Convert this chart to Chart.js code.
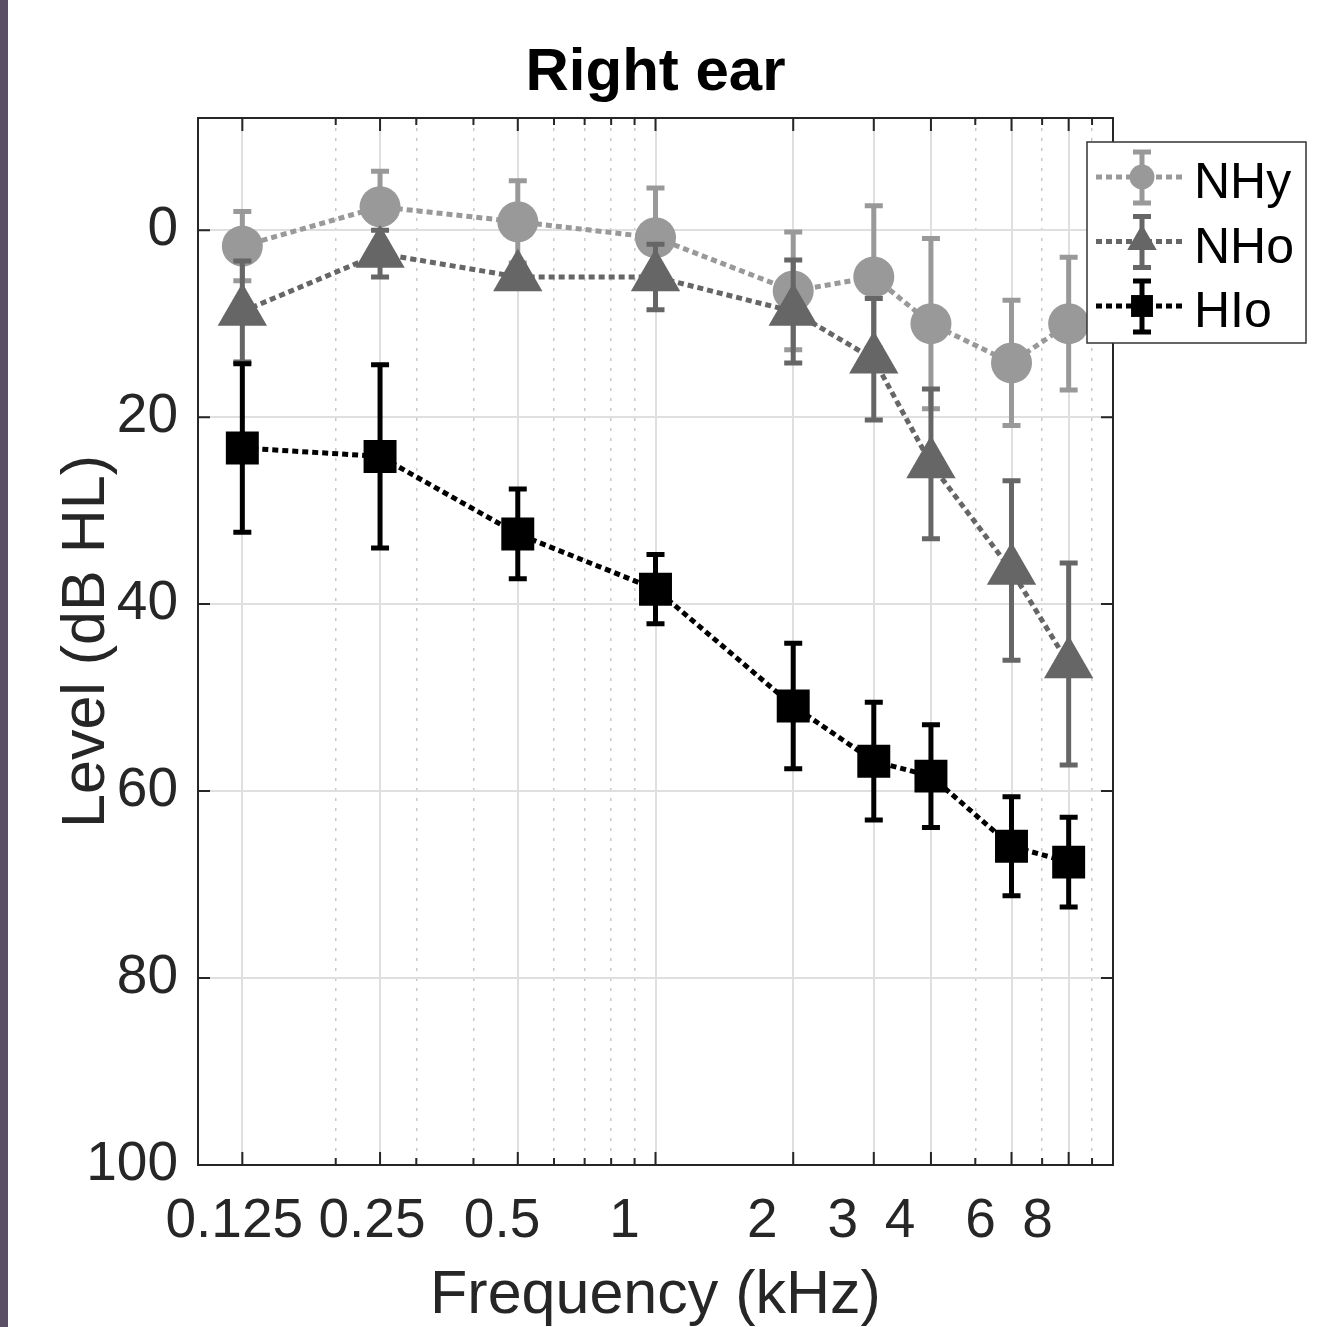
<!DOCTYPE html>
<html>
<head>
<meta charset="utf-8">
<title>Right ear</title>
<script src="https://cdn.jsdelivr.net/npm/chart.js@4.4.1/dist/chart.umd.min.js"></script>
<style>
  html, body { margin: 0; padding: 0; background: #fff; }
  #wrap { position: relative; width: 1322px; height: 1327px; overflow: hidden; }
  #strip { position: absolute; left: 0; top: 0; width: 8px; height: 1327px; background: #5b4f66; }
  canvas { display: block; }
</style>
</head>
<body>
<div id="wrap">
  <canvas id="audiogram" width="1322" height="1327"></canvas>
  <div id="strip"></div>
</div>
<script>
// hearing thresholds (mean +/- SD) per group, right ear
const freqs = [0.125, 0.25, 0.5, 1, 2, 3, 4, 6, 8];
// leading spaces nudge the first labels the way the original figure has them
const xTickLabels = ['   0.125', '   0.25', '  0.5', '1', '2', '3', '4', '6', '8'];
const minorFreqs = [0.2, 0.3, 0.4, 0.6, 0.7, 0.8, 0.9, 5, 7, 9];
const yTicks = [0, 20, 40, 60, 80, 100];

const nhyMean = [1.7, -2.5, -0.9, 0.8, 6.5, 5.0, 10.0, 14.2, 10.0];
const nhySd   = [3.7, 3.8, 4.4, 5.3, 6.3, 7.6, 9.1, 6.7, 7.1];
const nhoMean = [8.7, 2.5, 5.0, 5.0, 8.7, 13.8, 25.0, 36.4, 46.4];
const nhoSd   = [5.4, 2.5, 0.5, 3.5, 5.5, 6.5, 8.0, 9.6, 10.8];
const hioMean = [23.3, 24.2, 32.5, 38.4, 50.9, 56.8, 58.4, 65.9, 67.6];
const hioSd   = [9.0, 9.8, 4.8, 3.7, 6.7, 6.3, 5.5, 5.3, 4.8];

const AXIS = '#262626';
Chart.defaults.font.family = "'Liberation Sans', Arial, Helvetica, sans-serif";

function makeSet(label, means, sds, color, style, radius, legendRadius, order) {
  return {
    label: label,
    data: freqs.map((f, i) => ({ x: f, y: means[i] })),
    sd: sds,
    borderColor: color,
    backgroundColor: color,
    borderWidth: 5,
    borderDash: [6, 4],
    pointStyle: style,
    pointRadius: radius,
    pointHoverRadius: radius,
    pointBackgroundColor: color,
    pointBorderWidth: 0,
    legendRadius: legendRadius,
    tension: 0,
    order: order
  };
}

// simple marker drawing, same geometry as Chart.js point styles
function drawMarker(ctx, style, r, cx, cy) {
  ctx.beginPath();
  if (style === 'circle') {
    ctx.arc(cx, cy, r, 0, Math.PI * 2);
  } else if (style === 'triangle') {
    ctx.moveTo(cx, cy - r);
    ctx.lineTo(cx + r * 0.866, cy + r / 2);
    ctx.lineTo(cx - r * 0.866, cy + r / 2);
    ctx.closePath();
  } else {
    const s = r * Math.SQRT1_2;
    ctx.rect(cx - s, cy - s, 2 * s, 2 * s);
  }
  ctx.fill();
}

function drawErrorBar(ctx, px, top, bot, cap) {
  ctx.beginPath();
  ctx.moveTo(px, top); ctx.lineTo(px, bot);
  ctx.moveTo(px - cap, top); ctx.lineTo(px + cap, top);
  ctx.moveTo(px - cap, bot); ctx.lineTo(px + cap, bot);
  ctx.stroke();
}

// error bars go under each series' own line and markers
const errorBars = {
  id: 'errorBars',
  beforeDatasetDraw(chart, args) {
    const ds = chart.data.datasets[args.index];
    const { ctx, chartArea: a, scales: { x, y } } = chart;
    ctx.save();
    ctx.beginPath();
    ctx.rect(a.left, a.top, a.right - a.left, a.bottom - a.top);
    ctx.clip();
    ctx.strokeStyle = ds.borderColor;
    ctx.lineWidth = 5;
    ctx.lineCap = 'butt';
    ds.data.forEach((p, i) => {
      const px = x.getPixelForValue(p.x);
      drawErrorBar(ctx, px, y.getPixelForValue(p.y - ds.sd[i]), y.getPixelForValue(p.y + ds.sd[i]), 9);
    });
    ctx.restore();
  }
};

// box outline and inward tick marks, matlab style
const boxAndTicks = {
  id: 'boxAndTicks',
  beforeDatasetsDraw(chart) {
    const { ctx, chartArea: a, scales: { x, y } } = chart;
    ctx.save();
    ctx.strokeStyle = AXIS;
    ctx.lineWidth = 2;
    ctx.beginPath();
    ctx.moveTo(a.left, a.top);
    ctx.lineTo(a.right, a.top);
    ctx.lineTo(a.right, a.bottom);
    const mark = (vals, len) => vals.forEach(v => {
      const px = x.getPixelForValue(v);
      ctx.moveTo(px, a.bottom); ctx.lineTo(px, a.bottom - len);
      ctx.moveTo(px, a.top); ctx.lineTo(px, a.top + len);
    });
    mark(freqs, 13);
    mark(minorFreqs, 7);
    yTicks.forEach(v => {
      const py = y.getPixelForValue(v);
      ctx.moveTo(a.left, py); ctx.lineTo(a.left + 12, py);
      ctx.moveTo(a.right, py); ctx.lineTo(a.right - 12, py);
    });
    ctx.stroke();
    ctx.restore();
  }
};

// legend box straddling the right edge of the axes
const boxLegend = {
  id: 'boxLegend',
  afterDraw(chart) {
    const { ctx, chartArea: a } = chart;
    const left = a.right - 26, top = a.top + 24;
    ctx.save();
    ctx.fillStyle = '#fff';
    ctx.fillRect(left, top, 219, 201);
    ctx.strokeStyle = '#333';
    ctx.lineWidth = 1.5;
    ctx.strokeRect(left, top, 219, 201);
    chart.data.datasets.forEach((ds, i) => {
      const rowY = top + 35 + i * 64.5;
      const mx = left + 55;
      ctx.strokeStyle = ds.borderColor;
      ctx.fillStyle = ds.borderColor;
      ctx.lineWidth = 5;
      ctx.setLineDash(ds.borderDash);
      ctx.beginPath();
      ctx.moveTo(left + 9, rowY);
      ctx.lineTo(left + 96, rowY);
      ctx.stroke();
      ctx.setLineDash([]);
      drawErrorBar(ctx, mx, rowY - 25, rowY + 26, 9);
      drawMarker(ctx, ds.pointStyle, ds.legendRadius, mx, rowY);
      ctx.fillStyle = '#000';
      ctx.font = "50px 'Liberation Sans', Arial, sans-serif";
      ctx.textAlign = 'left';
      ctx.textBaseline = 'alphabetic';
      ctx.fillText(ds.label, left + 107, rowY + 21);
    });
    ctx.restore();
  }
};

new Chart(document.getElementById('audiogram'), {
  type: 'line',
  data: {
    datasets: [
      makeSet('NHy', nhyMean, nhySd, '#999999', 'circle', 20.5, 12.5, 3),
      makeSet('NHo', nhoMean, nhoSd, '#666666', 'triangle', 28.5, 17, 2),
      makeSet('HIo', hioMean, hioSd, '#000000', 'rect', 23.3, 15.5, 1)
    ]
  },
  options: {
    responsive: false,
    animation: false,
    devicePixelRatio: 1,
    layout: { padding: { left: 0, right: 209, top: 0, bottom: 0 } },
    plugins: {
      legend: { display: false },
      tooltip: { enabled: false },
      title: {
        display: true,
        text: 'Right ear',
        fullSize: false,
        color: '#000',
        font: { size: 60, weight: 'bold', lineHeight: 1 },
        padding: { top: 43, bottom: 15 }
      }
    },
    scales: {
      x: {
        type: 'logarithmic',
        position: 'bottom',
        min: 0.1,
        max: 10,
        afterBuildTicks: s => { s.ticks = freqs.map(v => ({ value: v })); },
        afterFit: s => { s.height = 162; },
        ticks: {
          autoSkip: false,
          maxRotation: 0,
          minRotation: 0,
          labelOffset: -31,
          padding: 24,
          color: AXIS,
          font: { size: 55 },
          callback: (v, i) => xTickLabels[i]
        },
        grid: { color: '#dfdfdf', lineWidth: 2, drawTicks: false },
        border: { color: AXIS, width: 2 },
        title: {
          display: true,
          text: 'Frequency (kHz)',
          color: AXIS,
          font: { size: 61, lineHeight: 1 },
          padding: { top: 0, bottom: 0 }
        }
      },
      xMinor: {
        type: 'logarithmic',
        position: 'bottom',
        min: 0.1,
        max: 10,
        afterBuildTicks: s => { s.ticks = minorFreqs.map(v => ({ value: v })); },
        afterFit: s => { s.height = 0; },
        ticks: { display: false },
        grid: { color: '#c9c9c9', lineWidth: 1.5, drawTicks: false },
        border: { display: false, dash: [3, 7] }
      },
      y: {
        type: 'linear',
        position: 'left',
        reverse: true,
        min: -12,
        max: 100,
        afterBuildTicks: s => { s.ticks = yTicks.map(v => ({ value: v })); },
        afterFit: s => { s.width = 198; },
        ticks: { padding: 20, color: AXIS, font: { size: 55 } },
        grid: { color: '#dfdfdf', lineWidth: 2, drawTicks: false },
        border: { color: AXIS, width: 2 },
        title: {
          display: true,
          text: 'Level (dB HL)',
          color: AXIS,
          font: { size: 61, lineHeight: 1 },
          padding: { top: 57, bottom: 0 }
        }
      }
    }
  },
  plugins: [errorBars, boxAndTicks, boxLegend]
});
</script>
</body>
</html>
